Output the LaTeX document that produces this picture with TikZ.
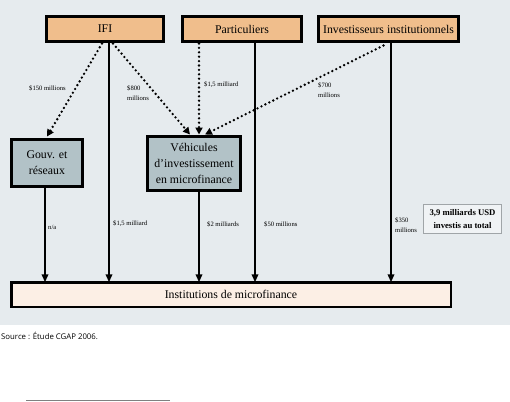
\documentclass[tikz,border=0pt]{standalone}
\usepackage{fontspec}
\setmainfont{Liberation Serif}
\newfontfamily\srcfont{Open Sans}
\usetikzlibrary{arrows.meta}
\definecolor{bgc}{RGB}{230,235,238}
\definecolor{peach}{RGB}{240,190,140}
\definecolor{slate}{RGB}{178,194,199}
\definecolor{cream}{RGB}{252,239,229}
\definecolor{totb}{RGB}{160,165,168}
\begin{document}
\begin{tikzpicture}[x=1pt,y=-1pt,
  topbox/.style={draw=black,line width=3pt,fill=peach,inner sep=0pt,outer sep=0pt,
    minimum height=25pt,font=\fontsize{11.8}{16}\selectfont},
  midbox/.style={draw=black,line width=3pt,fill=slate,inner sep=0pt,outer sep=0pt,
    align=center,font=\fontsize{11.8}{16}\selectfont},
  lbl/.style={inner sep=0pt,anchor=west,align=left,font=\fontsize{6.6}{10}\selectfont},
  solidarr/.style={line width=2pt,-{Triangle[length=8pt,width=6.5pt]}},
  dotarr/.style={line width=2.6pt,line cap=round,dash pattern=on 0pt off 4.4pt,
    -{Triangle[length=7pt,width=7pt]}}]
\useasboundingbox (0,0) rectangle (510,401);
\fill[bgc] (0,0) rectangle (510,325);
% nodes
\node[topbox,minimum width=117pt] (ifi) at (105,29) {IFI};
\node[topbox,minimum width=119pt] (part) at (242,29) {Particuliers};
\node[topbox,minimum width=140pt] (inst) at (388.5,29) {Investisseurs institutionnels};
\node[midbox,minimum width=71pt,minimum height=47pt] (gouv) at (47,163) {Gouv. et\\réseaux};
\node[midbox,minimum width=93pt,minimum height=54pt] (vmf) at (194,163.5) {Véhicules\\d’investissement\\en microfinance};
\node[draw=black,line width=2.5pt,fill=cream,inner sep=0pt,outer sep=0pt,
  minimum width=439.5pt,minimum height=24.5pt,font=\fontsize{11.8}{16}\selectfont] (imf) at (231,294.5) {Institutions de microfinance};
\node[draw=totb,line width=0.8pt,fill=bgc!60!white,inner sep=0pt,outer sep=0pt,
  minimum width=78pt,minimum height=29pt,align=center,
  font=\fontsize{8.7}{13}\selectfont\bfseries] (tot) at (462.5,219) {3,9 milliards USD\\investis au total};
% dotted connectors
\draw[dotarr] ([xshift=-3pt,yshift=-2pt]ifi.south) -- ([xshift=0pt,yshift=3pt]gouv.north);
\draw[dotarr] ([xshift=8pt,yshift=-2pt]ifi.south) -- ([xshift=-4pt,yshift=2pt]vmf.north);
\draw[dotarr] ([xshift=-43pt,yshift=-2pt]part.south) -- ([xshift=5pt,yshift=2pt]vmf.north);
\draw[dotarr] ([xshift=-5pt,yshift=-4pt]inst.south) -- ([xshift=11pt,yshift=2pt]vmf.north);
% solid connectors
\draw[solidarr] ([xshift=4pt]ifi.south) -- ([xshift=4pt]ifi.south |- imf.north);
\draw[solidarr] ([xshift=13pt]part.south) -- ([xshift=13pt]part.south |- imf.north);
\draw[solidarr] ([xshift=2.5pt]inst.south) -- ([xshift=2.5pt]inst.south |- imf.north);
\draw[solidarr] ([xshift=-2pt]gouv.south) -- ([xshift=-2pt]gouv.south |- imf.north);
\draw[solidarr] ([xshift=5pt]vmf.south) -- ([xshift=5pt]vmf.south |- imf.north);
% labels
\node[lbl] (l1) at (29,88) {\$150 millions};
\node[lbl] (l2) at (127,93) {\$800\\millions};
\node[lbl] (l3) at (204,85) {\$1,5 milliard};
\node[lbl] (l4) at (318,90) {\$700\\millions};
\node[lbl] (l5) at (48,227) {n/a};
\node[lbl] (l6) at (113,224) {\$1,5 milliard};
\node[lbl] (l7) at (207,224) {\$2 milliards};
\node[lbl] (l8) at (264,224) {\$50 millions};
\node[lbl] (l9) at (395,225) {\$350\\millions};
% source
\node[inner sep=0pt,anchor=west,font=\srcfont\fontsize{7.8}{9}\selectfont] (src) at (1,336) {Source : Étude CGAP 2006.};
\draw[gray,line width=0.8pt] (26,400) -- (170,400);
\end{tikzpicture}
\end{document}
